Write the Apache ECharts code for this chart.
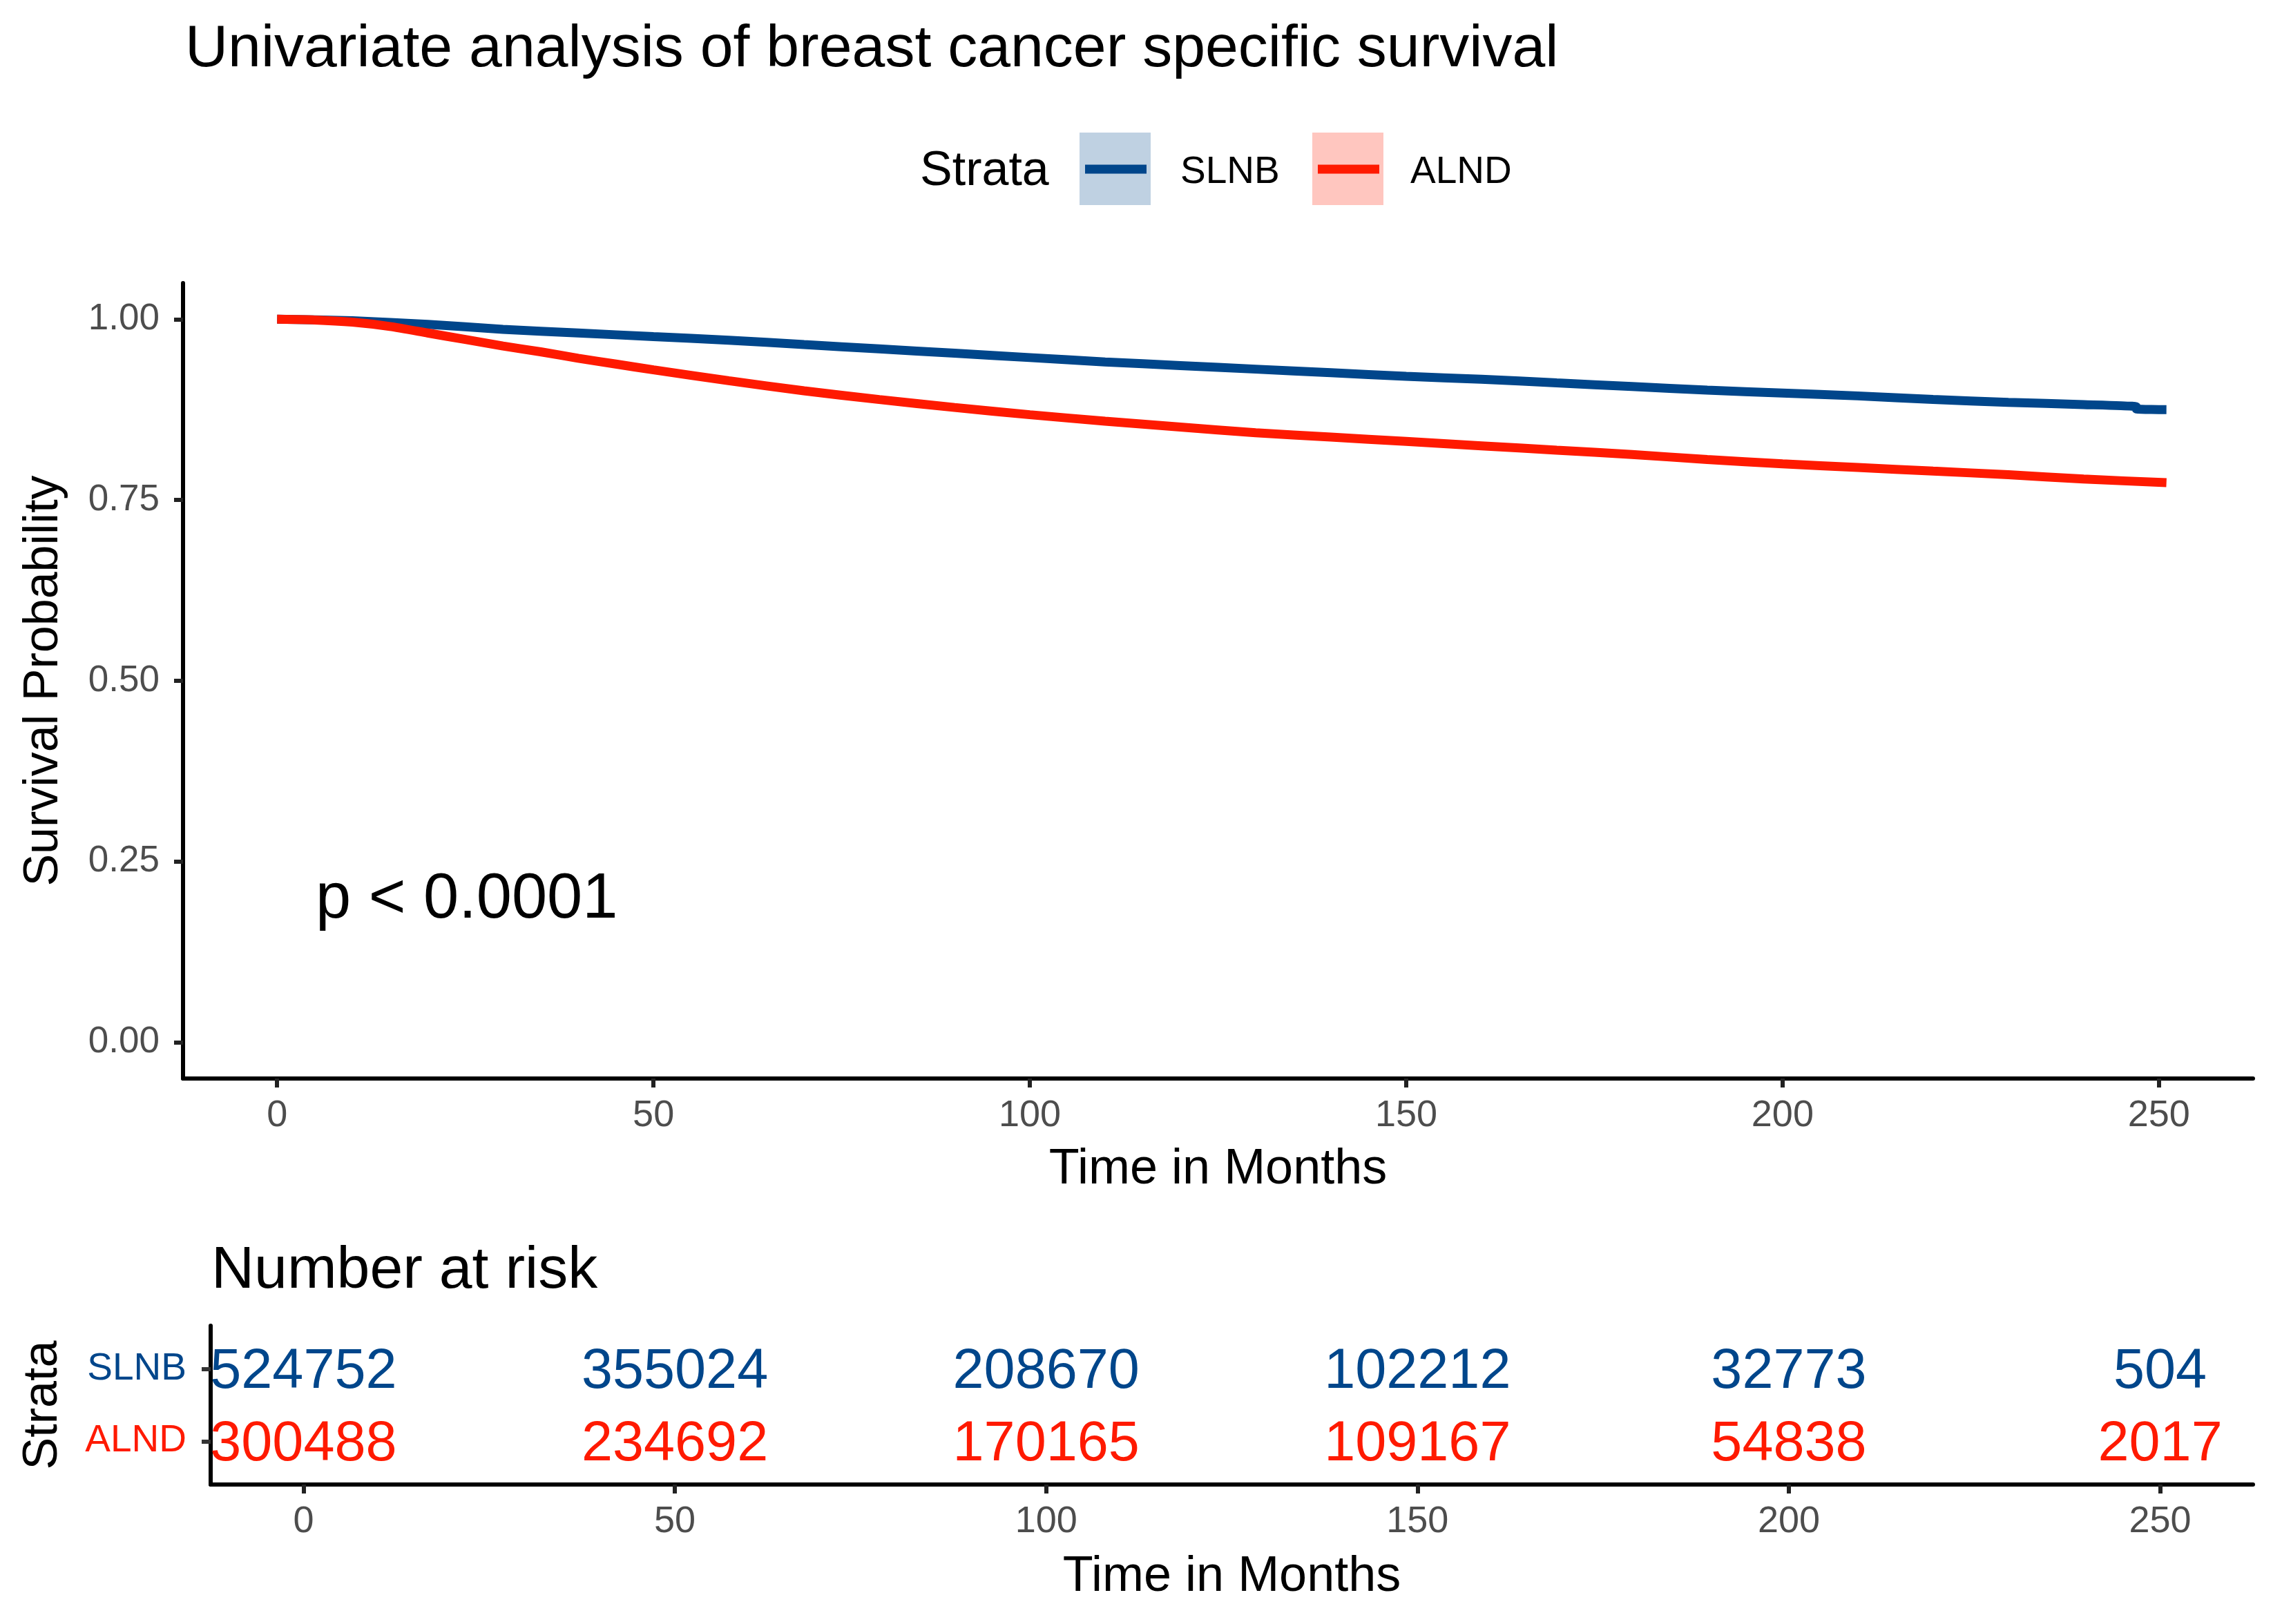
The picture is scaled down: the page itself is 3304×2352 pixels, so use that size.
<!DOCTYPE html>
<html><head><meta charset="utf-8">
<script src="https://cdn.jsdelivr.net/npm/echarts@6/dist/echarts.min.js"></script>
<style>html,body{margin:0;padding:0;background:#fff}#c{width:3304px;height:2352px}</style>
</head><body><div id="c"></div>
<script>
// ---- data ----
const strata = ['SLNB', 'ALND'];
const timeTicks = [0, 50, 100, 150, 200, 250];
const survTicks = [0, 0.25, 0.5, 0.75, 1];
const slnbTime = [0,10,20,30,40,50,60,70,80,90,100,110,120,130,140,150,160,170,180,190,200,210,220,230,240,247,247,251];
const slnbSurv = [1.000,0.998,0.993,0.986,0.981,0.976,0.971,0.965,0.959,0.953,0.947,0.941,0.936,0.931,0.926,0.921,0.917,0.912,0.907,0.902,0.898,0.894,0.889,0.885,0.882,0.879,0.876,0.875];
const alndTime = [0,5,10,15,20,25,30,35,40,45,50,60,70,80,90,100,110,120,130,140,150,160,170,180,190,200,210,220,230,240,251];
const alndSurv = [1.000,0.999,0.996,0.990,0.981,0.972,0.963,0.955,0.946,0.938,0.930,0.915,0.901,0.889,0.878,0.868,0.859,0.851,0.843,0.837,0.831,0.825,0.819,0.813,0.806,0.800,0.795,0.790,0.785,0.779,0.774];
const riskTimes = [0, 50, 100, 150, 200, 250];
const slnbRisk = [524752, 355024, 208670, 102212, 32773, 504];
const alndRisk = [300488, 234692, 170165, 109167, 54838, 2017];
const strataRow = {SLNB: 2, ALND: 1};

// ---- style ----
const BLUE = '#00468B', RED = '#FF1A00';
const FONT = "'Liberation Sans', Arial, sans-serif";
const GRAY = '#4d4d4d';

const chart = echarts.init(document.getElementById('c'), null, {renderer: 'canvas'});

function xAxisCommon(gridIndex, nameGap) {
  return {
    type: 'value', gridIndex, min: -12.5, max: 262.5,
    name: 'Time in Months', nameLocation: 'middle', nameGap,
    nameTextStyle: {fontFamily: FONT, fontSize: 72, color: '#000', lineHeight: 72},
    axisLine: {show: true, onZero: false, lineStyle: {color: '#000', width: 6}},
    axisTick: {show: true, length: 13, lineStyle: {color: '#222', width: 6}, customValues: timeTicks},
    axisLabel: {fontFamily: FONT, fontSize: 54, color: GRAY, margin: 27, customValues: timeTicks, lineHeight: 54},
    splitLine: {show: false}
  };
}

function riskSeries(name, rowKey, values, color) {
  return {
    name, type: 'scatter', xAxisIndex: 1, yAxisIndex: 1, symbolSize: 0,
    itemStyle: {opacity: 1, color},
    data: riskTimes.map((t, i) => [t, strataRow[rowKey], values[i]]),
    label: {show: true, position: 'inside', offset: [0, 5], formatter: p => String(p.value[2]),
            fontFamily: FONT, fontSize: 81, color, opacity: 1},
    emphasis: {disabled: true}
  };
}

function survSeries(name, times, surv, color, z) {
  return {
    name, type: 'line', xAxisIndex: 0, yAxisIndex: 0, showSymbol: false, symbol: 'none',
    smooth: 0.2,
    data: times.map((t, i) => [t, surv[i]]),
    lineStyle: {color, width: 13}, itemStyle: {color}, z
  };
}

const option = {
  animation: false,
  backgroundColor: '#fff',
  title: [
    {text: 'Univariate analysis of breast cancer specific survival', left: 263, top: 24,
     textStyle: {fontFamily: FONT, fontSize: 86, fontWeight: 'normal', color: '#000', lineHeight: 86}},
    {text: 'Number at risk', left: 301, top: 1793,
     textStyle: {fontFamily: FONT, fontSize: 86, fontWeight: 'normal', color: '#000', lineHeight: 86}}
  ],
  grid: [
    {left: 265, top: 410, right: 42, height: 1152},
    {left: 305, top: 1920, right: 42, height: 230}
  ],
  xAxis: [xAxisCommon(0, 96), xAxisCommon(1, 98)],
  yAxis: [
    {
      type: 'value', gridIndex: 0, min: -0.05, max: 1.05,
      name: 'Survival Probability', nameLocation: 'middle', nameGap: 166, nameRotate: 90,
      nameTextStyle: {fontFamily: FONT, fontSize: 70, color: '#000', lineHeight: 70},
      axisLine: {show: true, onZero: false, lineStyle: {color: '#000', width: 6}},
      axisTick: {show: true, length: 13, lineStyle: {color: '#222', width: 6}, customValues: survTicks},
      axisLabel: {fontFamily: FONT, fontSize: 53, color: GRAY, margin: 34, customValues: survTicks,
                  formatter: v => Number(v).toFixed(2)},
      splitLine: {show: false}
    },
    {
      type: 'value', gridIndex: 1, min: 0.4, max: 2.6,
      name: 'Strata', nameLocation: 'middle', nameGap: 207, nameRotate: 90,
      nameTextStyle: {fontFamily: FONT, fontSize: 70, color: '#000', lineHeight: 70},
      axisLine: {show: true, onZero: false, lineStyle: {color: '#000', width: 6}},
      axisTick: {show: true, length: 13, lineStyle: {color: '#333', width: 6}, customValues: [strataRow.ALND, strataRow.SLNB]},
      axisLabel: {
        fontFamily: FONT, fontSize: 55, margin: 35, customValues: [strataRow.ALND, strataRow.SLNB],
        formatter: v => (Math.round(v) === strataRow.SLNB ? '{s|SLNB}' : '{a|ALND}'),
        rich: {s: {color: BLUE, fontSize: 55, fontFamily: FONT}, a: {color: RED, fontSize: 55, fontFamily: FONT}}
      },
      splitLine: {show: false}
    }
  ],
  series: [
    survSeries('SLNB', slnbTime, slnbSurv, BLUE, 3),
    survSeries('ALND', alndTime, alndSurv, RED, 4),
    riskSeries('SLNB risk', 'SLNB', slnbRisk, BLUE),
    riskSeries('ALND risk', 'ALND', alndRisk, RED)
  ],
  graphic: [
    {type: 'text', left: 457, top: 1258, style: {text: 'p < 0.0001', font: '92px ' + FONT, fill: '#000'}},
    // legend
    {type: 'text', left: 1332, top: 214, style: {text: 'Strata', font: '70px ' + FONT, fill: '#000'}},
    {type: 'rect', shape: {x: 1563, y: 192, width: 103, height: 105}, style: {fill: 'rgba(0,70,139,0.25)'}},
    {type: 'line', shape: {x1: 1571, y1: 245, x2: 1660, y2: 245}, style: {stroke: BLUE, lineWidth: 13}},
    {type: 'text', left: 1709, top: 222, style: {text: strata[0], font: '55px ' + FONT, fill: '#000'}},
    {type: 'rect', shape: {x: 1900, y: 192, width: 103, height: 105}, style: {fill: 'rgba(255,26,0,0.25)'}},
    {type: 'line', shape: {x1: 1908, y1: 245, x2: 1997, y2: 245}, style: {stroke: RED, lineWidth: 13}},
    {type: 'text', left: 2042, top: 222, style: {text: strata[1], font: '55px ' + FONT, fill: '#000'}}
  ]
};
chart.setOption(option);
</script>
</body></html>
